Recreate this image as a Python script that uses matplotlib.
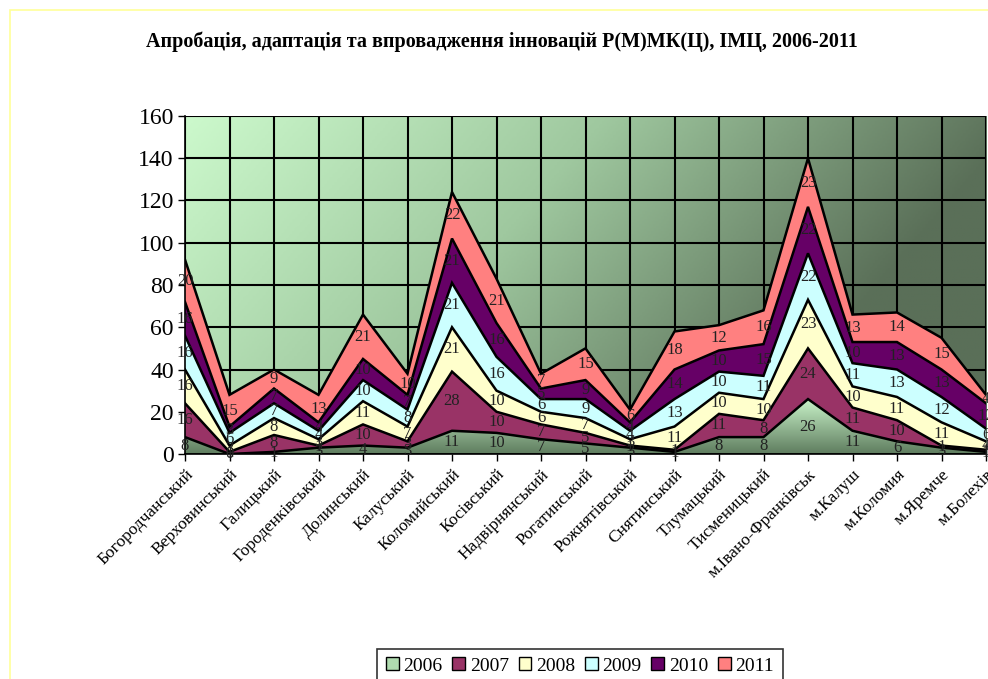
import numpy as np
import matplotlib.pyplot as plt
import matplotlib as mpl
from matplotlib.colors import LinearSegmentedColormap
from matplotlib.patches import Rectangle

mpl.rcParams.update({
    "font.family": ["Liberation Serif", "DejaVu Serif"],
})

# ── Data ──────────────────────────────────────────────────────────────────────
districts = [
    "Богородчанський", "Верховинський", "Галицький", "Городенківський",
    "Долинський", "Калуський", "Коломийський", "Косівський",
    "Надвірнянський", "Рогатинський", "Рожнятівський", "Снятинський",
    "Тлумацький", "Тисменицький", "м.Івано-Франківськ", "м.Калуш",
    "м.Коломия", "м.Яремче", "м.Болехів",
]
years = ["2006", "2007", "2008", "2009", "2010", "2011"]

v2006 = [8, 0, 1, 3, 4, 3, 11, 10, 7, 5, 3, 1, 8, 8, 26, 11, 6, 3, 1]
v2007 = [16, 1, 8, 1, 10, 3, 28, 10, 7, 5, 1, 1, 11, 8, 24, 11, 10, 1, 1]
v2008 = [16, 3, 8, 3, 11, 7, 21, 10, 6, 7, 3, 11, 10, 10, 23, 10, 11, 11, 4]
v2009 = [16, 6, 7, 4, 10, 8, 21, 16, 6, 9, 4, 13, 10, 11, 22, 11, 13, 12, 6]
v2010 = [16, 3, 7, 4, 10, 7, 21, 16, 5, 9, 4, 14, 10, 15, 22, 10, 13, 13, 12]
v2011 = [20, 15, 9, 13, 21, 10, 22, 21, 7, 15, 6, 18, 12, 16, 23, 13, 14, 15, 4]

series = [v2006, v2007, v2008, v2009, v2010, v2011]
colors = ["#9fcf9f", "#993366", "#ffffcc", "#ccffff", "#660066", "#ff8080"]

# ── Figure ────────────────────────────────────────────────────────────────────
W, H = 988, 679
fig = plt.figure(figsize=(W / 100, H / 100), dpi=100)
fig.patch.set_facecolor("white")

# thin yellow chart-area border (only left/top visible)
fig.add_artist(Rectangle((10 / W, -0.1), 1.2, (H - 10) / H + 0.1,
                         transform=fig.transFigure, fill=False,
                         edgecolor="#ffff99", lw=1.2))

x0, x1 = 185, 986
y0, y1 = 454, 116
ax = fig.add_axes([x0 / W, (H - y0) / H, (x1 - x0) / W, (y0 - y1) / H])

n = len(districts)
x = np.arange(n)
ax.set_xlim(0, n - 1)
ax.set_ylim(0, 160)

# background gradient: light top-left -> dark right
gx, gy = np.meshgrid(np.linspace(0, 1, 300), np.linspace(0, 1, 200))
t = np.clip(0.95 * gx + 0.35 * gy, 0, 1)
bg_cmap = LinearSegmentedColormap.from_list("bg", ["#ccf9cc", "#9fc89f", "#5a6f58"])
ax.imshow(t, extent=[0, n - 1, 0, 160], aspect="auto", cmap=bg_cmap,
          vmin=0, vmax=1, zorder=0, origin="upper")

# grid
for yy in range(0, 161, 20):
    ax.axhline(yy, color="black", lw=1.5, zorder=1)
for xx in x:
    ax.axvline(xx, color="black", lw=1.5, zorder=1)

# stacked areas
base = np.zeros(n)
for j, (vals, col) in enumerate(zip(series, colors)):
    vals = np.array(vals, dtype=float)
    top = base + vals
    poly = ax.fill_between(x, base, top, facecolor=col, edgecolor="none", zorder=2)
    if j == 0:
        # first series has its own vertical gradient (dark bottom, light top)
        g = np.linspace(0, 1, 100).reshape(-1, 1)
        cm0 = LinearSegmentedColormap.from_list("s0", ["#5f7d5f", "#c8f2c8"])
        im = ax.imshow(g, extent=[0, n - 1, 0, max(vals)], aspect="auto",
                       cmap=cm0, vmin=0, vmax=1, zorder=2.1, origin="lower")
        im.set_clip_path(poly.get_paths()[0], transform=ax.transData)
    ax.plot(x, top, color="black", lw=1.8, zorder=3, solid_joinstyle="miter")
    for i in range(n):
        ax.text(x[i], base[i] + vals[i] / 2, str(int(vals[i])), ha="center",
                va="center", fontsize=12, color="#222222", zorder=4)
    base = top

ax.plot(x, np.zeros(n), color="black", lw=1.8, zorder=3)

# axes styling
for s in ["top", "right"]:
    ax.spines[s].set_visible(False)
ax.spines["left"].set_linewidth(1.2)
ax.spines["bottom"].set_linewidth(1.2)
ax.set_yticks(range(0, 161, 20))
ax.tick_params(axis="y", labelsize=17, length=5, width=1, direction="out", pad=3)
ax.set_xticks(x)
ax.set_xticklabels(districts, rotation=45, ha="right", rotation_mode="anchor",
                   fontsize=12.5)
ax.tick_params(axis="x", length=5, width=1, direction="out", pad=4)

fig.text(0.508, 1 - 42 / H,
         "Апробація, адаптація та впровадження інновацій Р(М)МК(Ц), ІМЦ, 2006-2011",
         ha="center", va="center", fontsize=14.5, fontweight="bold")

# legend
leg_colors = ["#b0dcb0"] + colors[1:]
handles = [Rectangle((0, 0), 1, 1, facecolor=c, edgecolor="black", lw=1)
           for c in leg_colors]
leg = fig.legend(handles, years, loc="center", ncol=6,
                 bbox_to_anchor=(580 / W, 1 - 666 / H), fontsize=14,
                 frameon=True, fancybox=False, edgecolor="black",
                 handlelength=0.65, handleheight=0.65, handletextpad=0.25,
                 columnspacing=0.5, borderpad=0.45)
leg.get_frame().set_linewidth(1.2)

fig.savefig("out.png", dpi=100)
